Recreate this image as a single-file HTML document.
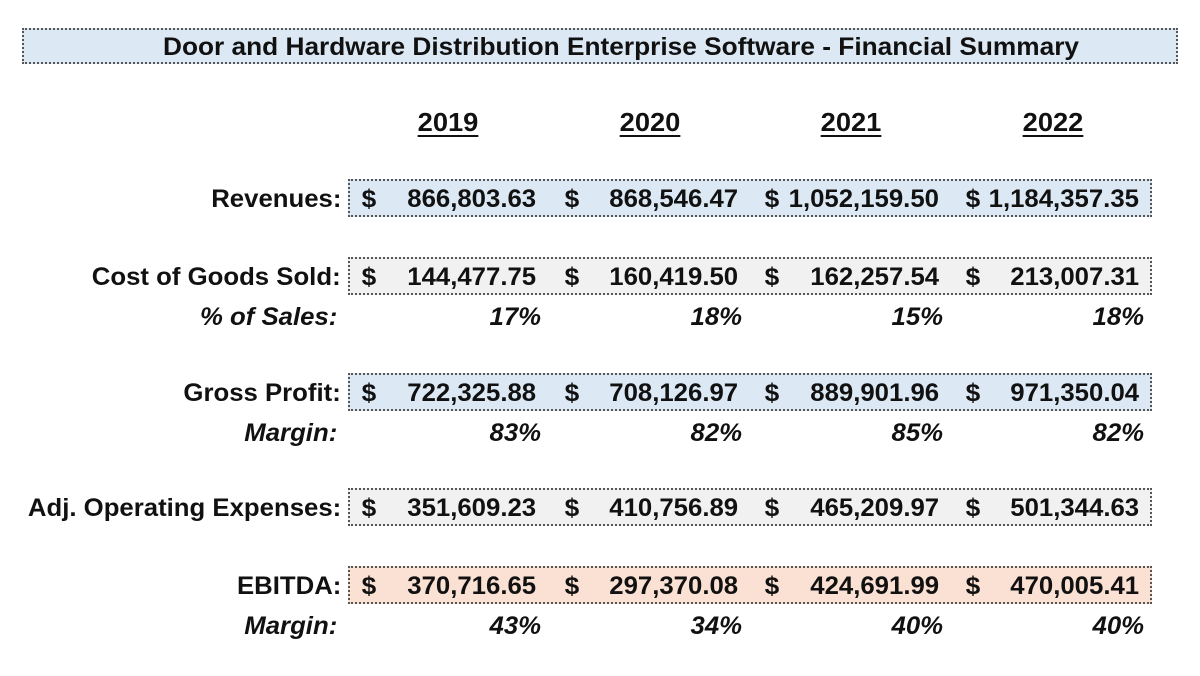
<!DOCTYPE html>
<html><head><meta charset="utf-8">
<style>
body{margin:0;width:1200px;height:676px;background:#fff;position:relative;overflow:hidden;font-family:"Liberation Sans",Arial,sans-serif;font-weight:bold;color:#111}
.abs{position:absolute;white-space:nowrap}
.box{position:absolute;border:2px dotted #555;box-sizing:border-box}
.r{transform-origin:right center;transform:scaleX(1.03)}
.c{transform-origin:center center;transform:scaleX(1.05)}
</style></head>
<body>
<div class="box" style="left:22px;top:28px;width:1156px;height:36px;background:#dce9f5"></div>
<div class="abs c" style="left:43px;width:1156px;top:31px;text-align:center;font-size:25px;line-height:32px">Door and Hardware Distribution Enterprise Software - Financial Summary</div>
<div id="t"></div>
<script>
const years=['2019','2020','2021','2022'];
const revenues=['866,803.63','868,546.47','1,052,159.50','1,184,357.35'];
const cogs=['144,477.75','160,419.50','162,257.54','213,007.31'];
const pctSales=['17%','18%','15%','18%'];
const grossProfit=['722,325.88','708,126.97','889,901.96','971,350.04'];
const grossMargin=['83%','82%','85%','82%'];
const opex=['351,609.23','410,756.89','465,209.97','501,344.63'];
const ebitda=['370,716.65','297,370.08','424,691.99','470,005.41'];
const ebitdaMargin=['43%','34%','40%','40%'];
const colDollar=[370,573,773,974],colEnd=[536,738,939,1139],pctEnd=[541,742,943,1144],yearC=[448,650,851,1053];
const T=document.getElementById('t');
function add(name,html,style,cls){const d=document.createElement('div');d.className='abs '+(cls||'');d.style.cssText=style;d.innerHTML=html;


T.appendChild(d);return d;}
years.forEach((y,i)=>add('year-'+y,y,`left:${yearC[i]-60}px;width:120px;top:107px;text-align:center;font-size:26px;text-decoration:underline;text-underline-offset:4px`,'c'));
function row(key,label,vals,cy,bg){
  const b=document.createElement('div');b.className='box';b.style.cssText=`left:348px;top:${cy-19}px;width:804px;height:38px;background:${bg}`;
  
  
  T.appendChild(b);
  add(key+'-label',label,`right:${1200-341}px;top:${cy-13}px;font-size:25px;line-height:28px`,'r');
  vals.forEach((v,i)=>{
    add(key+'-dollar-'+years[i],'$',`left:${colDollar[i]-8}px;top:${cy-13}px;font-size:25px;line-height:28px`,'c');
    add(key+'-value-'+years[i],v,`right:${1200-colEnd[i]}px;top:${cy-13}px;font-size:25px;line-height:28px`,'r');
  });
}
function pct(key,label,vals,cy){
  add(key+'-label',label,`right:${1200-337}px;top:${cy-13}px;font-size:25px;line-height:28px;font-style:italic`,'r');
  vals.forEach((v,i)=>add(key+'-'+years[i],v,`right:${1200-pctEnd[i]}px;top:${cy-13}px;font-size:25px;line-height:28px;font-style:italic`,'r'));
}
row('revenues','Revenues:',revenues,198,'#dce9f5');
row('cogs','Cost of Goods Sold:',cogs,276,'#f1f1f1');
pct('pct-of-sales','% of Sales:',pctSales,316);
row('gross-profit','Gross Profit:',grossProfit,392,'#dce9f5');
pct('gross-margin','Margin:',grossMargin,432);
row('opex','Adj. Operating Expenses:',opex,507,'#f1f1f1');
row('ebitda','EBITDA:',ebitda,585,'#fbe1d3');
pct('ebitda-margin','Margin:',ebitdaMargin,625);
</script>
</body></html>
